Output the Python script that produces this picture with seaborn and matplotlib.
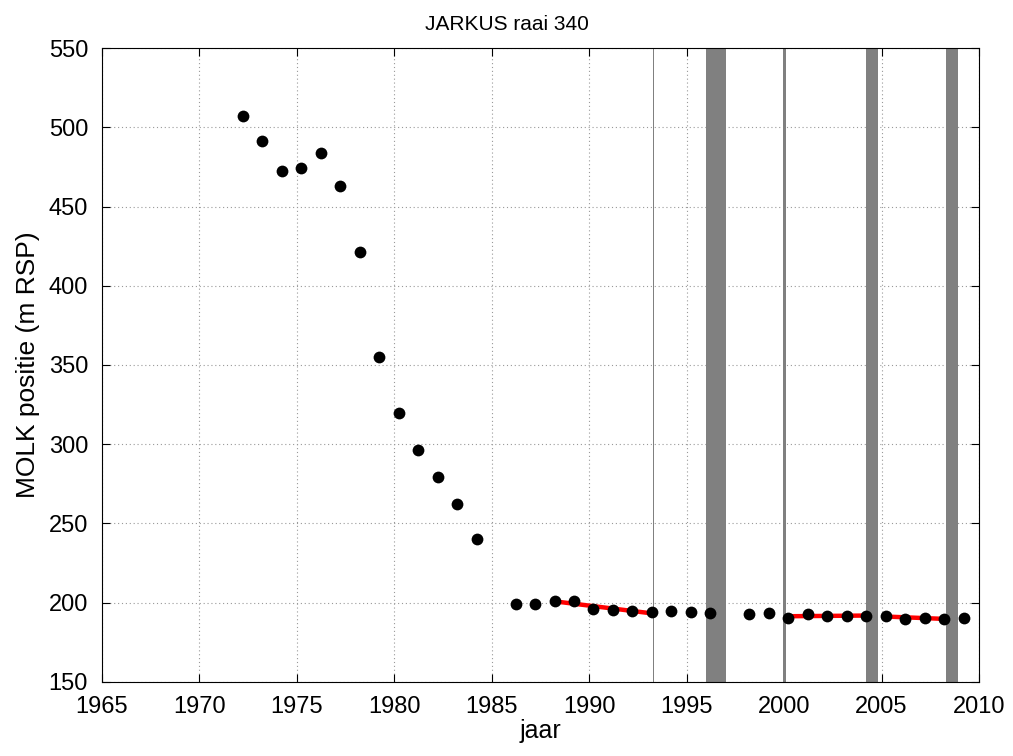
import matplotlib
matplotlib.use("Agg")
import matplotlib.pyplot as plt
import seaborn as sns
import numpy as np
import pandas as pd

# ---- data ----
years = [1972.22, 1973.22, 1974.22, 1975.22, 1976.22, 1977.22, 1978.22, 1979.22,
         1980.22, 1981.22, 1982.22, 1983.22, 1984.22, 1986.22, 1987.22, 1988.22,
         1989.22, 1990.22, 1991.22, 1992.22, 1993.22, 1994.22, 1995.22, 1996.22,
         1998.22, 1999.22, 2000.22, 2001.22, 2002.22, 2003.22, 2004.22, 2005.22,
         2006.22, 2007.22, 2008.22, 2009.22]
molk = [507.3, 491.5, 472.2, 474.1, 483.6, 463.1, 421.5, 354.9,
        319.9, 296.4, 279.1, 262.3, 240.2, 199.2, 199.2, 200.9,
        201.0, 196.2, 195.4, 195.0, 194.0, 195.0, 194.2, 193.8,
        193.1, 193.5, 190.6, 192.7, 191.8, 191.8, 191.6, 191.8,
        189.9, 190.6, 189.9, 190.2]

# trend periods (first and last year of each linear fit)
trend_start = [1988, 2000, 2005]
trend_end = [1993, 2004, 2008]

# nourishment periods (grey bands)
band_start = [1993.26, 1996.0, 1999.94, 2004.2, 2008.3]
band_end = [1993.34, 1997.0, 2000.08, 2004.8, 2008.92]

xticks = [1965, 1970, 1975, 1980, 1985, 1990, 1995, 2000, 2005, 2010]
yticks = [150, 200, 250, 300, 350, 400, 450, 500, 550]

df = pd.DataFrame({"jaar": years, "molk": molk})

sns.set_style("white")
plt.rcParams["font.family"] = ["Liberation Sans", "DejaVu Sans"]
plt.rcParams["text.color"] = "black"
plt.rcParams["axes.labelcolor"] = "black"

fig = plt.figure(figsize=(10.13, 7.56), dpi=100)
ax = fig.add_axes([0.1007, 0.0979, 0.8657, 0.8386])

for s, e in zip(band_start, band_end):
    ax.axvspan(s, e, color="0.5", lw=0, zorder=1)

for s, e in zip(trend_start, trend_end):
    sub = df[(df["jaar"] >= s) & (df["jaar"] < e + 1)]
    sns.regplot(data=sub, x="jaar", y="molk", ax=ax, scatter=False, ci=None,
                truncate=True, color="red", line_kws={"lw": 3.2, "zorder": 2})

sns.scatterplot(data=df, x="jaar", y="molk", ax=ax, color="black", s=72,
                edgecolor="black", linewidth=0, zorder=3)

ax.set_xlim(1965, 2010)
ax.set_ylim(150, 550)
ax.set_xticks(xticks)
ax.set_yticks(yticks)
ax.grid(True, linestyle=(0, (1, 2.5)), color="0.6", lw=0.8)
ax.set_axisbelow(True)
for sp in ax.spines.values():
    sp.set_visible(True)
    sp.set_color("black")
    sp.set_linewidth(0.8)
ax.tick_params(direction="in", length=6, width=0.8, labelsize=17,
               top=True, right=True, bottom=True, left=True, colors="black",
               labelcolor="black")
ax.tick_params(axis="x", pad=10)
ax.tick_params(axis="y", pad=10)
ax.set_xlabel("jaar", fontsize=18, labelpad=1, color="black")
ax.set_ylabel("MOLK positie (m RSP)", fontsize=19, labelpad=6, color="black")
ax.set_title("JARKUS raai 340", fontsize=15, pad=13, x=0.4612, color="black")

fig.savefig("out.png", dpi=100)
